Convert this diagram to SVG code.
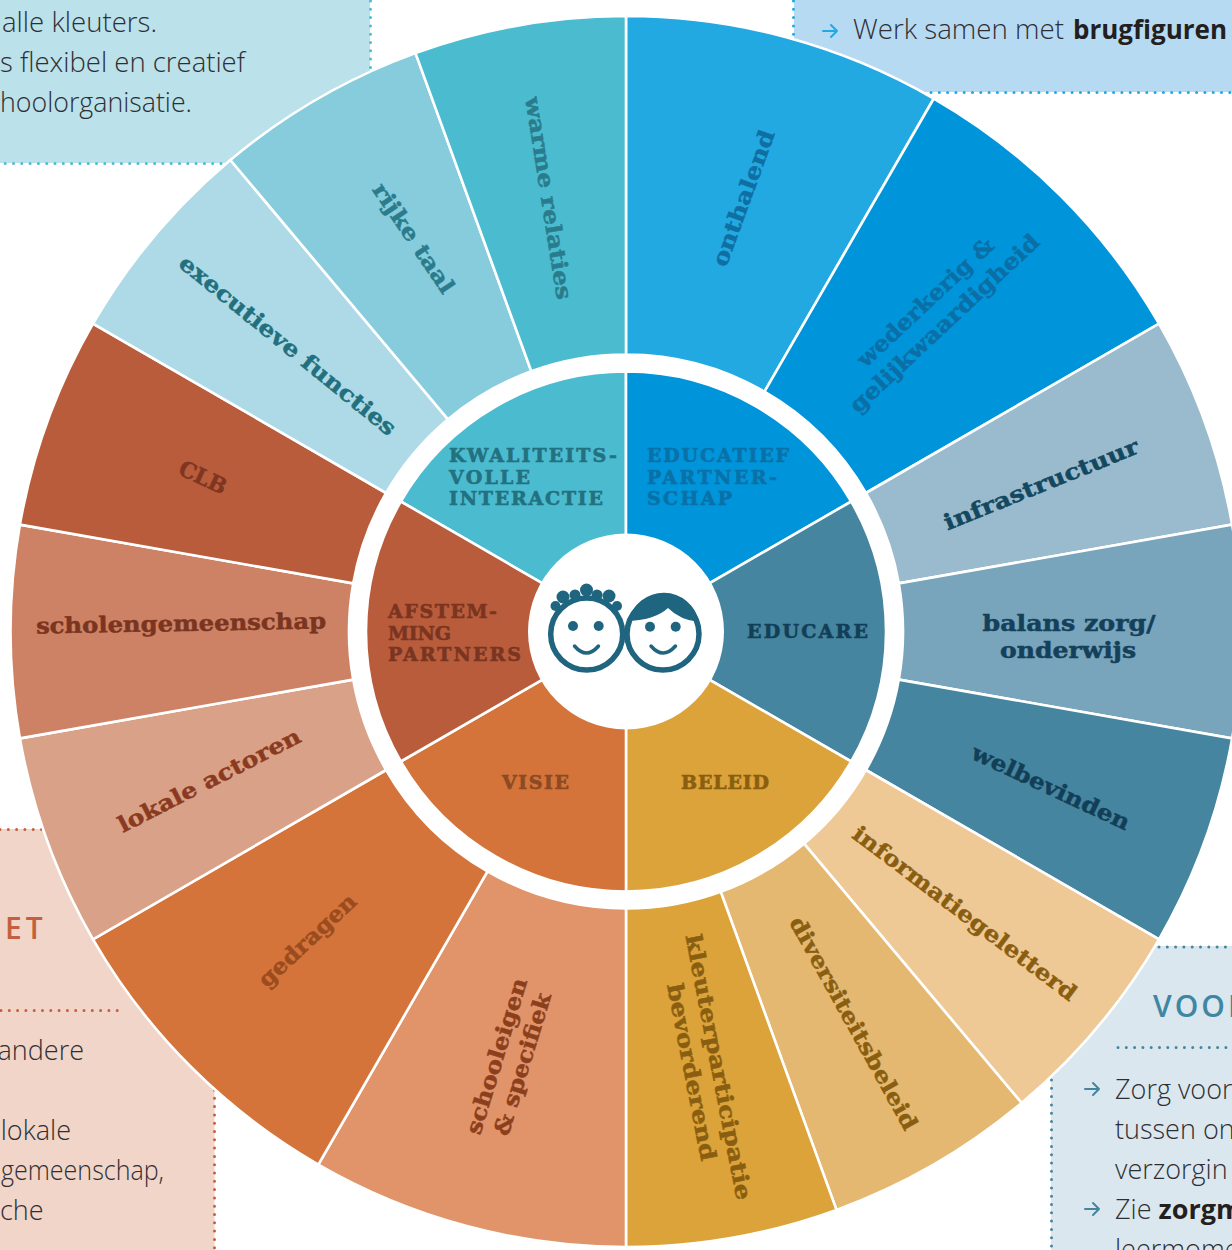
<svg xmlns="http://www.w3.org/2000/svg" width="1232" height="1250" viewBox="0 0 1232 1250">
<style>
.s{stroke:#fff;stroke-width:2.6;stroke-linejoin:miter}
.l{font-family:"DejaVu Serif",serif;font-weight:700;font-size:22px;text-anchor:middle;stroke:currentColor;stroke-width:.5}
.c{font-family:"DejaVu Serif",serif;font-weight:700;font-size:19px;stroke:currentColor;stroke-width:.6}
.t{font-family:"Open Sans","Noto Sans",sans-serif;font-weight:300;font-size:27px;fill:#2f2f33}
.h{font-family:"Open Sans","Noto Sans",sans-serif;font-weight:600;font-size:30px;letter-spacing:4px}
.d{fill:none;stroke-width:3;stroke-linecap:round;stroke-dasharray:0 8.3}
.a{fill:none;stroke-width:2;stroke-linecap:round;stroke-linejoin:round}
.i{fill:#20657f}
.r{fill:none;stroke:#20657f;stroke-width:3.5;stroke-linecap:round}
</style>
<g id="panels">
<g id="panel-kwaliteit">
<rect x="0" y="0" width="370" height="163" fill="#bbe1ea"/>
<path class="d" stroke="#4dbdd2" d="M370.500 1V68M221 163.500H1"/>
<text class="t" x="2" y="32" textLength="155" lengthAdjust="spacingAndGlyphs">alle kleuters.</text>
<text class="t" x="0" y="72" textLength="245" lengthAdjust="spacingAndGlyphs">s flexibel en creatief</text>
<text class="t" x="0" y="112" textLength="192" lengthAdjust="spacingAndGlyphs">hoolorganisatie.</text>
</g>
<g id="panel-educatief">
<rect x="794" y="0" width="438" height="92" fill="#b7daf3"/>
<path class="d" stroke="#22a9e1" d="M793.500 1V36M931 92.500H1232"/>
<path class="a" stroke="#22a9e1" d="M823 31H837M831 25L837 31L831 37"/>
<text class="t" x="853" y="39" textLength="211" lengthAdjust="spacingAndGlyphs">Werk samen met</text>
<text class="t" x="1073" y="39" style="font-weight:700;fill:#231f20" textLength="154" lengthAdjust="spacingAndGlyphs">brugfiguren</text>
</g>
<g id="panel-afstemming">
<rect x="0" y="829" width="214.500" height="421" fill="#f0d5c8"/>
<path class="d" stroke="#c4603f" d="M0 829.500H42M214.500 1090V1250M1 1010.500H117.500"/>
<text class="h" x="5" y="939" fill="#c4603f">ET</text>
<text class="t" x="84" y="1060" text-anchor="end">andere</text>
<text class="t" x="71" y="1140" text-anchor="end">lokale</text>
<text class="t" x="1" y="1180" textLength="163" lengthAdjust="spacingAndGlyphs">gemeenschap,</text>
<text class="t" x="0" y="1220">che</text>
</g>
<g id="panel-educare">
<rect x="1051" y="946" width="181" height="304" fill="#dbe7ef"/>
<path class="d" stroke="#45859f" d="M1159 947H1232M1051.500 1080V1250M1118 1047.500H1232"/>
<text class="h" x="1153" y="1017" fill="#3f86a3" style="letter-spacing:3px">VOOR</text>
<path class="a" stroke="#45859f" d="M1085 1089H1099M1093 1083L1099 1089L1093 1095"/>
<path class="a" stroke="#45859f" d="M1085 1209H1099M1093 1203L1099 1209L1093 1215"/>
<text class="t" x="1115" y="1099">Zorg voor</text>
<text class="t" x="1115" y="1139">tussen on</text>
<text class="t" x="1115" y="1179">verzorgin</text>
<text class="t" x="1115" y="1219">Zie <tspan style="font-weight:700;fill:#231f20">zorgm</tspan></text>
<text class="t" x="1115" y="1259">leermome</text>
</g>
</g>

<g id="outer-ring">
<g id="seg-onthalend"><path class="s" fill="#22a9e1" d="M626 354.500L626 16A615.500 615.500 0 0 1 933.800 98.500L764.500 391.600A277 277 0 0 0 626 354.500Z"/>
<text class="l" color="#0f6fa3" fill="#0f6fa3" transform="translate(743 198) rotate(-70)" y="8" textLength="143" lengthAdjust="spacingAndGlyphs">onthalend</text></g>
<g id="seg-wederkerig"><path class="s" fill="#0095da" d="M764.500 391.600L933.800 98.500A615.500 615.500 0 0 1 1159 323.700L865.900 493A277 277 0 0 0 764.500 391.600Z"/>
<text class="l" color="#0b6fa6" fill="#0b6fa6" transform="translate(925 302) rotate(-43)" y="8" textLength="178" lengthAdjust="spacingAndGlyphs">wederkerig &amp;</text>
<text class="l" color="#0b6fa6" fill="#0b6fa6" transform="translate(944 323) rotate(-43)" y="8" textLength="250" lengthAdjust="spacingAndGlyphs">gelijkwaardigheid</text></g>
<g id="seg-infrastructuur"><path class="s" fill="#9abbce" d="M865.900 493L1159 323.700A615.500 615.500 0 0 1 1232.100 524.600L898.800 583.400A277 277 0 0 0 865.900 493Z"/>
<text class="l" color="#14485f" fill="#14485f" transform="translate(1041 484) rotate(-22)" y="8" textLength="208" lengthAdjust="spacingAndGlyphs">infrastructuur</text></g>
<g id="seg-balans"><path class="s" fill="#78a4bc" d="M898.800 583.400L1232.100 524.600A615.500 615.500 0 0 1 1232.100 738.400L898.800 679.600A277 277 0 0 0 898.800 583.400Z"/>
<text class="l" color="#14405a" fill="#14405a" x="1069" y="631" textLength="173" lengthAdjust="spacingAndGlyphs">balans zorg/</text>
<text class="l" color="#14405a" fill="#14405a" x="1068" y="658" textLength="136" lengthAdjust="spacingAndGlyphs">onderwijs</text></g>
<g id="seg-welbevinden"><path class="s" fill="#45859f" d="M898.800 679.600L1232.100 738.400A615.500 615.500 0 0 1 1159 939.300L865.900 770A277 277 0 0 0 898.800 679.600Z"/>
<text class="l" color="#123f57" fill="#123f57" transform="translate(1051 787) rotate(25)" y="8" textLength="172" lengthAdjust="spacingAndGlyphs">welbevinden</text></g>
<g id="seg-informatie"><path class="s" fill="#eec895" d="M865.900 770L1159 939.300A615.500 615.500 0 0 1 1021.600 1103L804 843.700A277 277 0 0 0 865.900 770Z"/>
<text class="l" color="#8a5e10" fill="#8a5e10" transform="translate(965 913) rotate(37)" y="8" textLength="274" lengthAdjust="spacingAndGlyphs">informatiegeletterd</text></g>
<g id="seg-diversiteit"><path class="s" fill="#e5b871" d="M804 843.700L1021.600 1103A615.500 615.500 0 0 1 836.500 1209.900L720.700 891.800A277 277 0 0 0 804 843.700Z"/>
<text class="l" color="#8a5e10" fill="#8a5e10" transform="translate(854 1023) rotate(61)" y="8" textLength="240" lengthAdjust="spacingAndGlyphs">diversiteitsbeleid</text></g>
<g id="seg-kleuter"><path class="s" fill="#dba339" d="M720.700 891.800L836.500 1209.900A615.500 615.500 0 0 1 626 1247L626 908.500A277 277 0 0 0 720.700 891.800Z"/>
<text class="l" color="#8a5e10" fill="#8a5e10" transform="translate(719 1067) rotate(79)" y="8" textLength="270" lengthAdjust="spacingAndGlyphs">kleuterparticipatie</text>
<text class="l" color="#8a5e10" fill="#8a5e10" transform="translate(692 1072) rotate(79)" y="8" textLength="180" lengthAdjust="spacingAndGlyphs">bevorderend</text></g>
<g id="seg-schooleigen"><path class="s" fill="#e1946a" d="M626 908.500L626 1247A615.500 615.500 0 0 1 318.300 1164.600L487.500 871.400A277 277 0 0 0 626 908.500Z"/>
<text class="l" color="#8c3f1c" fill="#8c3f1c" transform="translate(496 1056) rotate(-73)" y="8" textLength="162" lengthAdjust="spacingAndGlyphs">schooleigen</text>
<text class="l" color="#8c3f1c" fill="#8c3f1c" transform="translate(522 1064) rotate(-73)" y="8" textLength="148" lengthAdjust="spacingAndGlyphs">&amp; specifiek</text></g>
<g id="seg-gedragen"><path class="s" fill="#d4743a" d="M487.500 871.400L318.300 1164.600A615.500 615.500 0 0 1 93 939.300L386.100 770A277 277 0 0 0 487.500 871.400Z"/>
<text class="l" color="#9a4c1f" fill="#9a4c1f" transform="translate(307 940) rotate(-43)" y="8" textLength="125" lengthAdjust="spacingAndGlyphs">gedragen</text></g>
<g id="seg-lokale"><path class="s" fill="#d9a188" d="M386.100 770L93 939.300A615.500 615.500 0 0 1 19.900 738.400L353.200 679.600A277 277 0 0 0 386.100 770Z"/>
<text class="l" color="#8a3a20" fill="#8a3a20" transform="translate(209 780) rotate(-27)" y="8" textLength="202" lengthAdjust="spacingAndGlyphs">lokale actoren</text></g>
<g id="seg-scholengemeenschap"><path class="s" fill="#cd8265" d="M353.200 679.600L19.900 738.400A615.500 615.500 0 0 1 19.900 524.600L353.200 583.400A277 277 0 0 0 353.200 679.600Z"/>
<text class="l" color="#7a3520" fill="#7a3520" transform="translate(181 623) rotate(-1)" y="8" textLength="290" lengthAdjust="spacingAndGlyphs">scholengemeenschap</text></g>
<g id="seg-clb"><path class="s" fill="#b85c3c" d="M353.200 583.400L19.900 524.600A615.500 615.500 0 0 1 93 323.700L386.100 493A277 277 0 0 0 353.200 583.400Z"/>
<text class="l" color="#7f3520" fill="#7f3520" transform="translate(203 477) rotate(25)" y="8" textLength="50" lengthAdjust="spacingAndGlyphs">CLB</text></g>
<g id="seg-executieve"><path class="s" fill="#addae6" d="M386.100 493L93 323.700A615.500 615.500 0 0 1 230.400 160L448 419.300A277 277 0 0 0 386.100 493Z"/>
<text class="l" color="#22707e" fill="#22707e" transform="translate(288 345) rotate(39)" y="8" textLength="272" lengthAdjust="spacingAndGlyphs">executieve functies</text></g>
<g id="seg-rijke-taal"><path class="s" fill="#86ccdc" d="M448 419.300L230.400 160A615.500 615.500 0 0 1 415.500 53.100L531.300 371.200A277 277 0 0 0 448 419.300Z"/>
<text class="l" color="#2a7c8c" fill="#2a7c8c" transform="translate(414 238) rotate(56)" y="8" textLength="128" lengthAdjust="spacingAndGlyphs">rijke taal</text></g>
<g id="seg-warme-relaties"><path class="s" fill="#4bbcd0" d="M531.300 371.200L415.500 53.100A615.500 615.500 0 0 1 626 16L626 354.500A277 277 0 0 0 531.300 371.200Z"/>
<text class="l" color="#2a7c8c" fill="#2a7c8c" transform="translate(549 198) rotate(81)" y="8" textLength="205" lengthAdjust="spacingAndGlyphs">warme relaties</text></g>
</g>

<circle cx="626" cy="631.500" r="268.500" fill="#fff"/>

<g id="inner-ring">
<g id="core-kwaliteit"><path class="s" fill="#4bbcd0" d="M626 631.500L400.800 501.500A260 260 0 0 1 626 371.500Z"/>
<text class="c" color="#23707f" fill="#23707f" x="449" y="462" textLength="168" lengthAdjust="spacing">KWALITEITS-</text>
<text class="c" color="#23707f" fill="#23707f" x="449" y="484" textLength="81" lengthAdjust="spacing">VOLLE</text>
<text class="c" color="#23707f" fill="#23707f" x="449" y="505" textLength="154" lengthAdjust="spacing">INTERACTIE</text></g>
<g id="core-educatief"><path class="s" fill="#0095da" d="M626 631.500L626 371.500A260 260 0 0 1 851.200 501.500Z"/>
<text class="c" color="#0a71a8" fill="#0a71a8" x="647" y="462" textLength="142" lengthAdjust="spacing">EDUCATIEF</text>
<text class="c" color="#0a71a8" fill="#0a71a8" x="647" y="484" textLength="130" lengthAdjust="spacing">PARTNER-</text>
<text class="c" color="#0a71a8" fill="#0a71a8" x="647" y="505" textLength="85" lengthAdjust="spacing">SCHAP</text></g>
<g id="core-educare"><path class="s" fill="#45859f" d="M626 631.500L851.200 501.500A260 260 0 0 1 851.200 761.500Z"/>
<text class="c" color="#123f57" fill="#123f57" x="747" y="638" textLength="121" lengthAdjust="spacing">EDUCARE</text></g>
<g id="core-beleid"><path class="s" fill="#dba339" d="M626 631.500L851.200 761.500A260 260 0 0 1 626 891.500Z"/>
<text class="c" color="#8a5e10" fill="#8a5e10" x="681" y="789" textLength="88" lengthAdjust="spacing">BELEID</text></g>
<g id="core-visie"><path class="s" fill="#d4743a" d="M626 631.500L626 891.500A260 260 0 0 1 400.800 761.500Z"/>
<text class="c" color="#8c4a22" fill="#8c4a22" x="502" y="789" textLength="67" lengthAdjust="spacing">VISIE</text></g>
<g id="core-afstemming"><path class="s" fill="#b85c3c" d="M626 631.500L400.800 761.500A260 260 0 0 1 400.800 501.500Z"/>
<text class="c" color="#7a3520" fill="#7a3520" x="388" y="618" textLength="109" lengthAdjust="spacing">AFSTEM-</text>
<text class="c" color="#7a3520" fill="#7a3520" x="388" y="640" textLength="63" lengthAdjust="spacing">MING</text>
<text class="c" color="#7a3520" fill="#7a3520" x="388" y="661" textLength="133" lengthAdjust="spacing">PARTNERS</text></g>
</g>

<g id="hub">
<circle cx="626" cy="631.500" r="98" fill="#fff"/>
<g id="icon-left">
<circle class="i" cx="555.500" cy="606" r="5"/><circle class="i" cx="563" cy="597" r="6.500"/><circle class="i" cx="575" cy="595" r="5.500"/><circle class="i" cx="586.500" cy="590" r="6.500"/><circle class="i" cx="597" cy="595" r="5.500"/><circle class="i" cx="609" cy="596" r="6.500"/><circle class="i" cx="617" cy="606" r="5"/>
<circle cx="586.700" cy="634" r="36" fill="#fff" stroke="#20657f" stroke-width="5.500"/>
<circle class="i" cx="573" cy="626" r="5"/><circle class="i" cx="598.700" cy="626" r="5"/>
<path class="r" d="M574.500 646Q586.500 660 598.500 646"/>
</g>
<g id="icon-right">
<circle cx="663" cy="634" r="36" fill="#fff" stroke="#20657f" stroke-width="5.500"/>
<path class="i" d="M628.500 621A36 36 0 0 1 699 622Q680 620 668 608Q655 620 628.500 621Z"/>
<circle class="i" cx="650" cy="626.700" r="5"/><circle class="i" cx="675.700" cy="626.700" r="5"/>
<path class="r" d="M651 646Q663 660 675.500 646"/>
</g>
</g>
</svg>
